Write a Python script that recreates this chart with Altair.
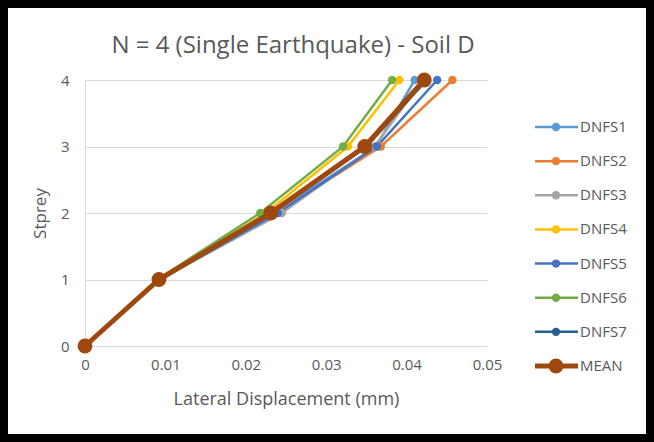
import altair as alt
import pandas as pd

storeys = [0, 1, 2, 3, 4]
series = ["DNFS1", "DNFS2", "DNFS3", "DNFS4", "DNFS5", "DNFS6", "DNFS7", "MEAN"]
colors = ["#5B9BD5", "#ED7D31", "#A5A5A5", "#FFC000", "#4472C4", "#70AD47", "#255E91", "#9E480E"]

dnfs1 = [0, 0.0092, 0.0235, 0.0362, 0.0410]
dnfs2 = [0, 0.0093, 0.0238, 0.0368, 0.0457]
dnfs3 = [0, 0.0093, 0.0245, 0.0360, 0.0420]
dnfs4 = [0, 0.0092, 0.0225, 0.0327, 0.0391]
dnfs5 = [0, 0.0093, 0.0240, 0.0363, 0.0438]
dnfs6 = [0, 0.0090, 0.0218, 0.0321, 0.0382]
dnfs7 = [0, 0.0092, 0.0233, 0.0350, 0.0425]
mean = [0, 0.0092, 0.0231, 0.0348, 0.0422]

title_text = "N = 4 (Single Earthquake) - Soil D"

values = [dnfs1, dnfs2, dnfs3, dnfs4, dnfs5, dnfs6, dnfs7, mean]
rows = []
for name, vals in zip(series, values):
    for s, v in zip(storeys, vals):
        rows.append({"series": name, "storey": s, "disp": v})
df = pd.DataFrame(rows)
leg = pd.DataFrame({"series": series})

FONT = "Open Sans"
TXT = "#595959"

is_mean = alt.datum.series == "MEAN"
color = alt.Color("series:N", scale=alt.Scale(domain=series, range=colors), legend=None)
sw = alt.condition(is_mean, alt.value(5), alt.value(2.5))
sz = alt.condition(is_mean, alt.value(220), alt.value(70))

x = alt.X("disp:Q", scale=alt.Scale(domain=[0, 0.05], nice=False),
          axis=alt.Axis(values=[0, 0.01, 0.02, 0.03, 0.04, 0.05], title="Lateral Displacement (mm)",
                        grid=False, domain=False, ticks=False, labelPadding=11, titlePadding=18,
                        labelFlush=False, titleFontSize=18,
                        labelExpr="datum.value == 0 ? '0' : format(datum.value, '.2f')"))
y = alt.Y("storey:Q", scale=alt.Scale(domain=[0, 4], nice=False),
          axis=alt.Axis(values=[0, 1, 2, 3, 4], title="Stprey", grid=True, gridColor="#D9D9D9",
                        domain=True, domainColor="#D9D9D9", ticks=False, labelPadding=16,
                        labelFlush=False, titlePadding=11, titleFontSize=17))
y_noaxis = alt.Y("storey:Q", scale=alt.Scale(domain=[0, 4], nice=False), axis=None)

base = alt.Chart(df)
dn = base.transform_filter(alt.datum.series != "MEAN")
mn = base.transform_filter(alt.datum.series == "MEAN")
lines_d = dn.mark_line().encode(x=x, y=y, color=color, strokeWidth=sw, detail="series:N")
pts_d = dn.mark_circle(opacity=1).encode(x=x, y=y_noaxis, color=color, size=sz)
lines_m = mn.mark_line().encode(x=x, y=y_noaxis, color=color, strokeWidth=sw, detail="series:N")
pts_m = mn.mark_circle(opacity=1).encode(x=x, y=y_noaxis, color=color, size=sz)

ly = alt.Y("series:N", scale=alt.Scale(type="point", domain=series, range=[47, 286], padding=0), axis=None)
lbase = alt.Chart(leg)
leg_rule = lbase.mark_rule().encode(x=alt.value(450), x2=alt.value(493), y=ly, color=color, strokeWidth=sw)
leg_pt = lbase.mark_circle(opacity=1).encode(x=alt.value(471), y=ly, color=color, size=sz)
leg_txt = lbase.mark_text(align="left", baseline="middle", font=FONT, fontSize=15, color=TXT).encode(
    x=alt.value(495), y=ly, text="series:N")

one = pd.DataFrame({"t": [title_text]})
title = alt.Chart(one).mark_text(align="center", baseline="alphabetic", font=FONT, fontSize=24,
                                 color=TXT).encode(x=alt.value(208), y=alt.value(-27), text="t:N")
frame = alt.Chart(one).mark_rect(fill=None, stroke="black", strokeWidth=8).encode(
    x=alt.value(-81), x2=alt.value(565), y=alt.value(-76), y2=alt.value(358))

chart = alt.layer(lines_d, pts_d, lines_m, pts_m, leg_rule, leg_pt, leg_txt, title, frame).resolve_scale(
    y="independent").properties(
    width=402, height=266,
    autosize=alt.AutoSizeParams(type="none"),
    padding={"left": 85, "top": 80, "right": 167, "bottom": 96},
    background="white",
).configure_view(stroke=None).configure_axis(
    labelFont=FONT, titleFont=FONT, labelFontSize=15, labelColor=TXT, titleColor=TXT,
    titleFontWeight="normal")

chart.save("out.html", embed_options={"renderer": "svg", "actions": False})
